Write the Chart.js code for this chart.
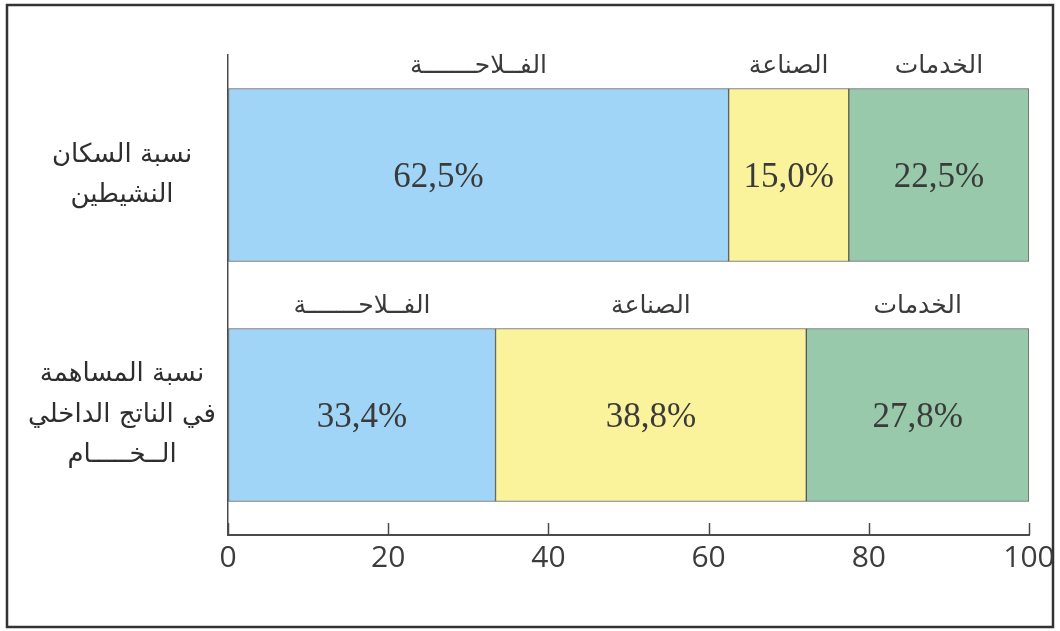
<!DOCTYPE html>
<html>
<head>
<meta charset="utf-8">
<script src="https://cdn.jsdelivr.net/npm/chart.js@4.4.1/dist/chart.umd.min.js"></script>
<style>
  html, body { margin: 0; padding: 0; background: #fff; }
  canvas { display: block; }
</style>
</head>
<body>
<canvas id="chart" width="1060" height="631"></canvas>
<script>
// ─── Data ───
const rowLabels = [
  ['نسبة السكان', 'النشيطين'],
  ['نسبة المساهمة', 'في الناتج الداخلي', 'الــخـــــام'],
];
const sectors = ['الفلاحة', 'الصناعة', 'الخدمات'];
// sector names as printed above each bar (with tatweel stretching)
const sectorCaptions = [
  ['الفــلاحـــــــة', 'الصناعة', 'الخدمات'],
  ['الفــلاحـــــــة', 'الصناعة', 'الخدمات'],
];
const agriculture = [62.5, 33.4];
const industry = [15.0, 38.8];
const services = [22.5, 27.8];
const xTicks = [0, 20, 40, 60, 80, 100];

const colors = { agri: '#a0d5f7', ind: '#fbf39c', serv: '#97c9aa', edge: '#5a5a5a', axis: '#4a4a4a', text: '#3a3a3a' };
const fmt = v => v.toFixed(1).replace('.', ',') + '%';
// the print places the first value a bit left of its segment centre
const valueShift = (di, i) => (di === 0 && i === 0 ? -40 : 0);

// ─── Plugins ───
const framePlugin = {
  id: 'frame',
  beforeDraw(chart) {
    const c = chart.ctx;
    c.save();
    c.strokeStyle = '#333';
    c.lineWidth = 2.5;
    c.strokeRect(7, 5, 1046, 622);
    c.restore();
  },
};

const ticksPlugin = {
  id: 'innerTicks',
  afterDraw(chart) {
    const c = chart.ctx, x = chart.scales.x, bottom = chart.chartArea.bottom;
    c.save();
    c.strokeStyle = colors.axis;
    c.lineWidth = 1.5;
    xTicks.forEach(v => {
      const px = Math.round(x.getPixelForValue(v)) + 0.5;
      c.beginPath();
      c.moveTo(px, bottom);
      c.lineTo(px, bottom - 12);
      c.stroke();
    });
    c.restore();
  },
};

const labelsPlugin = {
  id: 'barLabels',
  afterDatasetsDraw(chart) {
    const c = chart.ctx;
    c.save();
    c.textAlign = 'center';
    c.textBaseline = 'middle';
    chart.data.datasets.forEach((ds, di) => {
      chart.getDatasetMeta(di).data.forEach((bar, i) => {
        const { x, y, base, height } = bar.getProps(['x', 'y', 'base', 'height'], true);
        const cx = (x + base) / 2;
        c.fillStyle = colors.text;
        c.font = '35px "Liberation Serif", serif';
        c.fillText(fmt(ds.data[i]), cx + valueShift(di, i), y + 3);
        c.font = '25px "DejaVu Sans", sans-serif';
        c.fillText(sectorCaptions[i][di], cx, y - height / 2 - 22);
      });
    });
    c.restore();
  },
};

// ─── Chart ───
const ds = (label, data, color) => ({ label, data, backgroundColor: color, borderColor: colors.edge, borderWidth: 1, borderSkipped: false, barThickness: 173 });

new Chart(document.getElementById('chart'), {
  type: 'bar',
  data: {
    labels: rowLabels,
    datasets: [
      ds(sectors[0], agriculture, colors.agri),
      ds(sectors[1], industry, colors.ind),
      ds(sectors[2], services, colors.serv),
    ],
  },
  options: {
    indexAxis: 'y',
    responsive: false,
    animation: false,
    events: [],
    layout: { padding: { top: 55, left: 28, right: 31, bottom: 36 } },
    plugins: { legend: { display: false }, tooltip: { enabled: false } },
    scales: {
      x: {
        stacked: true,
        min: 0,
        max: 100,
        afterBuildTicks: s => { s.ticks = xTicks.map(v => ({ value: v })); },
        afterFit: s => { s.height = 60; s.paddingLeft = 0; s.paddingRight = 0; },
        grid: { drawOnChartArea: false, drawTicks: false },
        border: { display: true, color: colors.axis, width: 2 },
        ticks: { color: '#3c3c3c', padding: 5, maxRotation: 0, font: { family: '"Open Sans", sans-serif', size: 30 } },
      },
      y: {
        stacked: true,
        afterFit: s => { s.width = 200; s.paddingTop = 0; s.paddingBottom = 0; },
        grid: { display: false, drawTicks: false },
        border: { display: true, color: colors.axis, width: 1.5 },
        ticks: { color: '#2e2e2e', padding: 12, crossAlign: 'center', font: { family: '"DejaVu Sans", sans-serif', size: 26, lineHeight: 1.55 } },
      },
    },
  },
  plugins: [framePlugin, ticksPlugin, labelsPlugin],
});
</script>
</body>
</html>
